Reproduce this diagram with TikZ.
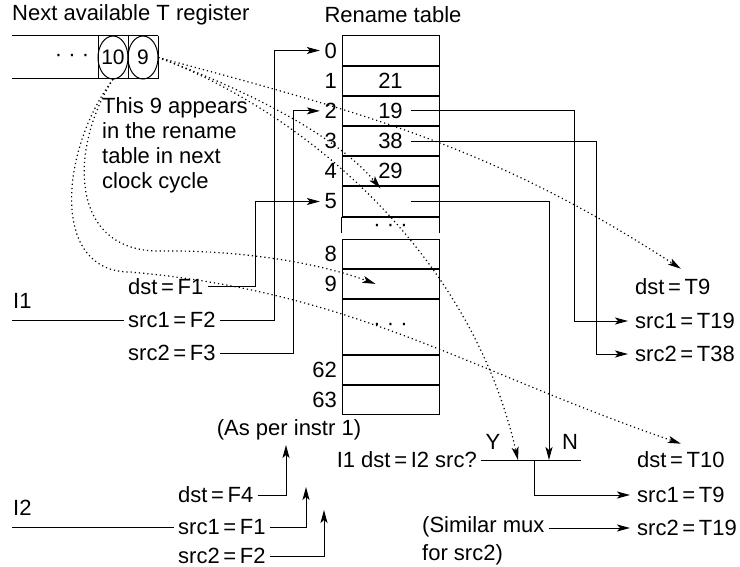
\documentclass[tikz,border=0pt]{standalone}
\usepackage{fontspec}
\setmainfont{Liberation Sans}
\usetikzlibrary{arrows.meta,positioning}

\begin{document}
\begin{tikzpicture}[
x=1pt,y=-1pt,
font=\fontsize{22}{25}\selectfont,
every node/.style={inner sep=4pt},
row/.style={draw,line width=1pt,minimum width=97pt,minimum height=29.2pt,inner sep=0pt},
num/.style={inner sep=1.5pt},
reg/.style={minimum width=30pt,minimum height=43pt,inner sep=0pt,font=\fontsize{21}{22}\selectfont},
lbl/.style={anchor=west},
wire/.style={line width=1pt},
sep/.style={line width=2pt},
arr/.style={-{Stealth[length=13pt,width=7pt,inset=3pt]},line width=1pt,shorten >=3pt},
darr/.style={-{Stealth[length=13pt,width=7pt,inset=3pt]},line width=1.2pt,dash pattern=on 1.2pt off 3pt}]
\useasboundingbox (0,0) rectangle (740,567);

% next available T register
\node[anchor=west] (ttl) at (8,15) {Next available T register};
\draw[wire] (12,36) -- (158,36) (12,79) -- (158,79)
  (98,36) -- (98,79) (128,36) -- (128,79) (158,36) -- (158,79);
\node at (72,57.5) {· · ·};
\node[reg] (c10) at (113,57.5) {10};
\node[reg] (c9) at (143,57.5) {9};
\draw[wire] (c10.center) ellipse [x radius=15pt,y radius=21.5pt];
\draw[wire] (c9.center) ellipse [x radius=15pt,y radius=21.5pt];
\node[anchor=north west,align=left] (note) at (98,93) {This 9 appears\\in the rename\\table in next\\clock cycle};

% rename table
\node (rtitle) at (393,15) {Rename table};
\node[row] (r0) at (390.5,50.5) {};
\node[row,below=0pt of r0] (r1) {21};
\node[row,below=0pt of r1] (r2) {19};
\node[row,below=0pt of r2] (r3) {38};
\node[row,below=0pt of r3] (r4) {29};
\node[row,below=0pt of r4] (r5) {};
\node[row,below=22pt of r5] (r8) {};
\node[row,below=0pt of r8] (r9) {};
\node[row,below=0pt of r9,minimum height=55pt] (rx) {· · ·};
\node[row,below=0pt of rx] (r62) {};
\node[row,below=0pt of r62] (r63) {};
\foreach \r in {r1,r2,r3,r4,r5,r9,rx,r62,r63}
  \draw[sep] (\r.north west) -- (\r.north east);
\draw[sep] (r5.south west) -- (r5.south east);
\draw[wire] (r5.south west) -- ++(0,16) (r5.south east) -- ++(0,16);
\node at ([yshift=-11pt]r5.south) {· · ·};
\foreach \r/\n in {r0/0,r1/1,r2/2,r3/3,r4/4,r5/5,r8/8,r9/9,r62/62,r63/63}
  \node[num,left=3pt of \r] (n\n) {\n};

% instruction 1
\node[anchor=south west] (i1) at (9,313) {I1};
\coordinate (i1in) at (12,320);
\node[lbl] (dF1) at (124,287) {dst\,=\,F1};
\node[lbl] (sF2) at (124,320) {src1\,=\,F2};
\node[lbl] (sF3) at (124,353) {src2\,=\,F3};
\draw[wire] (i1in) -- (sF2.west);
\draw[arr] (dF1.east) -| ([xshift=-67pt]n5.west) -- (n5.west);
\draw[arr] (sF2.east) -| ([xshift=-48pt]n0.west) -- (n0.west);
\draw[arr] (sF3.east) -| ([xshift=-29pt]n2.west) -- (n2.west);

% renamed registers
\node[lbl] (dT9) at (631,287) {dst\,=\,T9};
\node[lbl] (sT19) at (631,321) {src1\,=\,T19};
\node[lbl] (sT38) at (631,354) {src2\,=\,T38};
\draw[arr] ([xshift=20pt]r2.center) -| ([xshift=-57pt]sT19.west) -- (sT19.west);
\draw[arr] ([xshift=20pt]r3.center) -| ([xshift=-35pt]sT38.west) -- (sT38.west);

% instruction 2
\node (asper) at (289,430) {(As per instr 1)};
\node[anchor=south west] (i2) at (9,520) {I2};
\coordinate (i2in) at (12,527);
\node[lbl] (dF4) at (174,495) {dst\,=\,F4};
\node[lbl] (sF1) at (174,527) {src1\,=\,F1};
\node[lbl] (sF2b) at (174,556) {src2\,=\,F2};
\draw[wire] (i2in) -- (sF1.west);
\draw[arr] (dF4.east) -| ([xshift=-3pt,yshift=-12pt]asper.center);
\draw[arr] (sF1.east) -| ([xshift=17pt,yshift=-54pt]asper.center);
\draw[arr] (sF2b.east) -| ([xshift=35pt,yshift=-77pt]asper.center);

% mux
\node[anchor=east] (mq) at (481,460) {I1 dst\,=\,I2 src?};
\node[inner sep=0pt,minimum width=94pt] (mux) at (534,460) {};
\draw[wire] (mq.east) -- (mux.east);
\node (yl) at (493,442) {Y};
\node (nl) at (570,442) {N};
\node[lbl] (dT10) at (633,460) {dst\,=\,T10};
\node[lbl] (sT9) at (633,495) {src1\,=\,T9};
\node[lbl] (s2T19) at (633,528) {src2\,=\,T19};
\node[anchor=north west,align=left,font=\fontsize{22}{28}\selectfont] (sm) at (418,512) {(Similar mux\\for src2)};
\draw[arr,shorten >=0pt] ([xshift=20pt]r5.center) -| ([xshift=15pt]mux.center);
\draw[arr] (mux.center) |- (sT9.west);
\draw[arr] (sm.east |- s2T19.west) -- (s2T19.west);

% T register flow
\draw[darr] (c9.east) to[out=-15,in=147] ([xshift=8pt,yshift=6pt]dT9.north);
\draw[darr] (c9.east) .. controls (260,95) and (340,140) .. ([xshift=-10pt,yshift=-2pt]r5.north);
\draw[darr] (c9.east) .. controls (300,110) and (470,250) .. ([xshift=-16pt]mux.center);
\draw[darr] (c10.south) .. controls (68,150) and (70,252) .. (160,251)
  .. controls (230,250) and (310,260) .. ([xshift=-15pt]r9.center);
\draw[darr] (c10.south) .. controls (60,150) and (50,272) .. (130,272)
  to[out=-5,in=161] ([yshift=4pt]dT10.north);
\end{tikzpicture}
\end{document}
